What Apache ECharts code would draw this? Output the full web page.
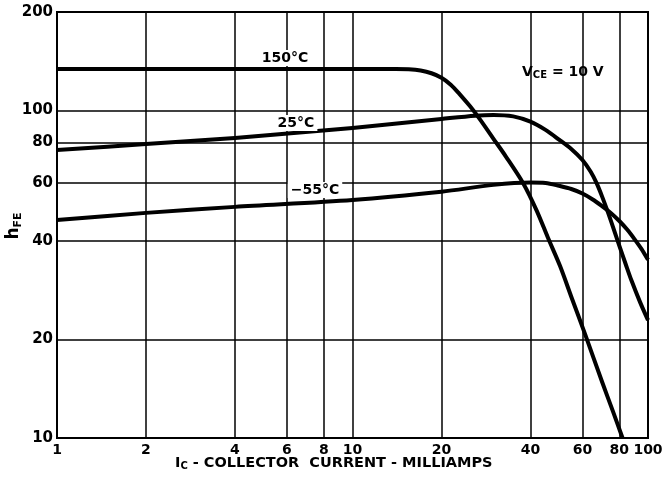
<!DOCTYPE html>
<html>
<head>
<meta charset="utf-8">
<script src="https://cdn.jsdelivr.net/npm/echarts@6/dist/echarts.min.js"></script>
<style>
html,body{margin:0;padding:0;background:#fff;}
#c{width:662px;height:487px;}
</style>
</head>
<body>
<div id="c"></div>
<script>
// Tick values (log axes)
const xTicks = [1, 2, 4, 6, 8, 10, 20, 40, 60, 80, 100];
const yTicks = [10, 20, 40, 60, 80, 100, 200];

// Curves: [collector current mA, hFE]
const t150 = [[1,134],[5,134],[10,134],[14,134],[15.5,133.7],[17,132.5],[18.5,130],[20,126],[21.5,120],[23,112.5],[25,103],[27,94],[30,82],[33,72.5],[37.8,60],[42,49.5],[45.9,40.8],[50.4,33.5],[55,27],[61.2,20.8],[70,14.8],[76,12.1],[82,10]];
const t25 = [[1,75.8],[2,79],[4,82.5],[10,88.5],[20,94.3],[26,96.5],[30,97],[35,96],[40,92.5],[45,87.3],[50,81.5],[55,76.3],[60,70.6],[64,65],[67,60],[70,54.5],[73,49.2],[76,44.3],[80,38.6],[84,34],[88,30.2],[94,26],[100,22.9]];
const tm55 = [[1,46.3],[2,48.7],[4,50.8],[10,53.3],[20,56.5],[30,59.3],[40,60.3],[45,60.1],[50,58.9],[55,57.6],[60,55.8],[65,53.5],[70,51],[75,48.6],[80,46],[85,43.3],[90,40.5],[95,37.8],[100,35]];

const FONT = 'DejaVu Sans';
const chart = echarts.init(document.getElementById('c'), null, {renderer:'canvas'});

function curve(name, data){
  return {
    name, type:'line', data, smooth:0.3, showSymbol:false, symbol:'none',
    lineStyle:{color:'#000', width:4, cap:'butt', join:'round'}, clip:true, z:5
  };
}

chart.setOption({
  backgroundColor:'#fff',
  animation:false,
  grid:{left:57, right:14, top:12, bottom:49, containLabel:false, outerBoundsMode:'none'},
  xAxis:{
    type:'log', logBase:10, min:1, max:100,
    axisLine:{show:true, onZero:false, lineStyle:{color:'#000', width:2}},
    axisTick:{show:false, customValues:xTicks},
    axisLabel:{customValues:xTicks, color:'#000', fontFamily:FONT, fontWeight:'bold', fontSize:14, margin:5,
      formatter:v=>String(Math.round(v))},
    splitLine:{show:true, lineStyle:{color:'#000', width:1.5}},
    minorSplitLine:{show:false}
  },
  yAxis:{
    type:'log', logBase:10, min:10, max:200,
    axisLine:{show:true, onZero:false, lineStyle:{color:'#000', width:2}},
    axisTick:{show:false, customValues:yTicks},
    axisLabel:{customValues:yTicks, color:'#000', fontFamily:FONT, fontWeight:'bold', fontSize:15, margin:4,
      formatter:v=>String(Math.round(v))},
    splitLine:{show:true, lineStyle:{color:'#000', width:1.5}}
  },
  graphic:[
    {type:'rect', shape:{x:57, y:12, width:591, height:426}, style:{fill:null, stroke:'#000', lineWidth:2}, z:10, silent:true},
    {type:'text', x:14, y:226, rotation:Math.PI/2, style:{
      text:'{h|h}{s|FE}', align:'center', verticalAlign:'middle',
      rich:{h:{font:'bold 17px "DejaVu Sans"', fill:'#000'}, s:{font:'bold 11px "DejaVu Sans"', fill:'#000', padding:[8,0,0,0]}}
    }, z:8},
    {type:'text', x:285, y:58, style:{text:'150°C', font:'bold 14px "DejaVu Sans"', fill:'#000', align:'center', verticalAlign:'middle', backgroundColor:'#fff', padding:[1,3]}, z:8},
    {type:'text', x:296, y:123, style:{text:'25°C', font:'bold 14px "DejaVu Sans"', fill:'#000', align:'center', verticalAlign:'middle', backgroundColor:'#fff', padding:[1,3]}, z:8},
    {type:'text', x:315, y:190, style:{text:'−55°C', font:'bold 14px "DejaVu Sans"', fill:'#000', align:'center', verticalAlign:'middle', backgroundColor:'#fff', padding:[1,3]}, z:8},
    {type:'text', x:522, y:72, style:{
      text:'{v|V}{s|CE}{v| = 10 V}', verticalAlign:'middle', align:'left',
      rich:{v:{font:'bold 14px "DejaVu Sans"', fill:'#000'}, s:{font:'bold 10px "DejaVu Sans"', fill:'#000', padding:[7,0,0,0]}}
    }, z:8},
    {type:'text', x:175, y:463, style:{
      text:'{v|I}{s|C}{v| - COLLECTOR  CURRENT - MILLIAMPS}', verticalAlign:'middle', align:'left',
      rich:{v:{font:'bold 14.5px "DejaVu Sans"', fill:'#000'}, s:{font:'bold 10px "DejaVu Sans"', fill:'#000', padding:[7,0,0,0]}}
    }, z:8}
  ],
  series:[curve('150°C', t150), curve('25°C', t25), curve('-55°C', tm55)]
});
</script>
</body>
</html>
